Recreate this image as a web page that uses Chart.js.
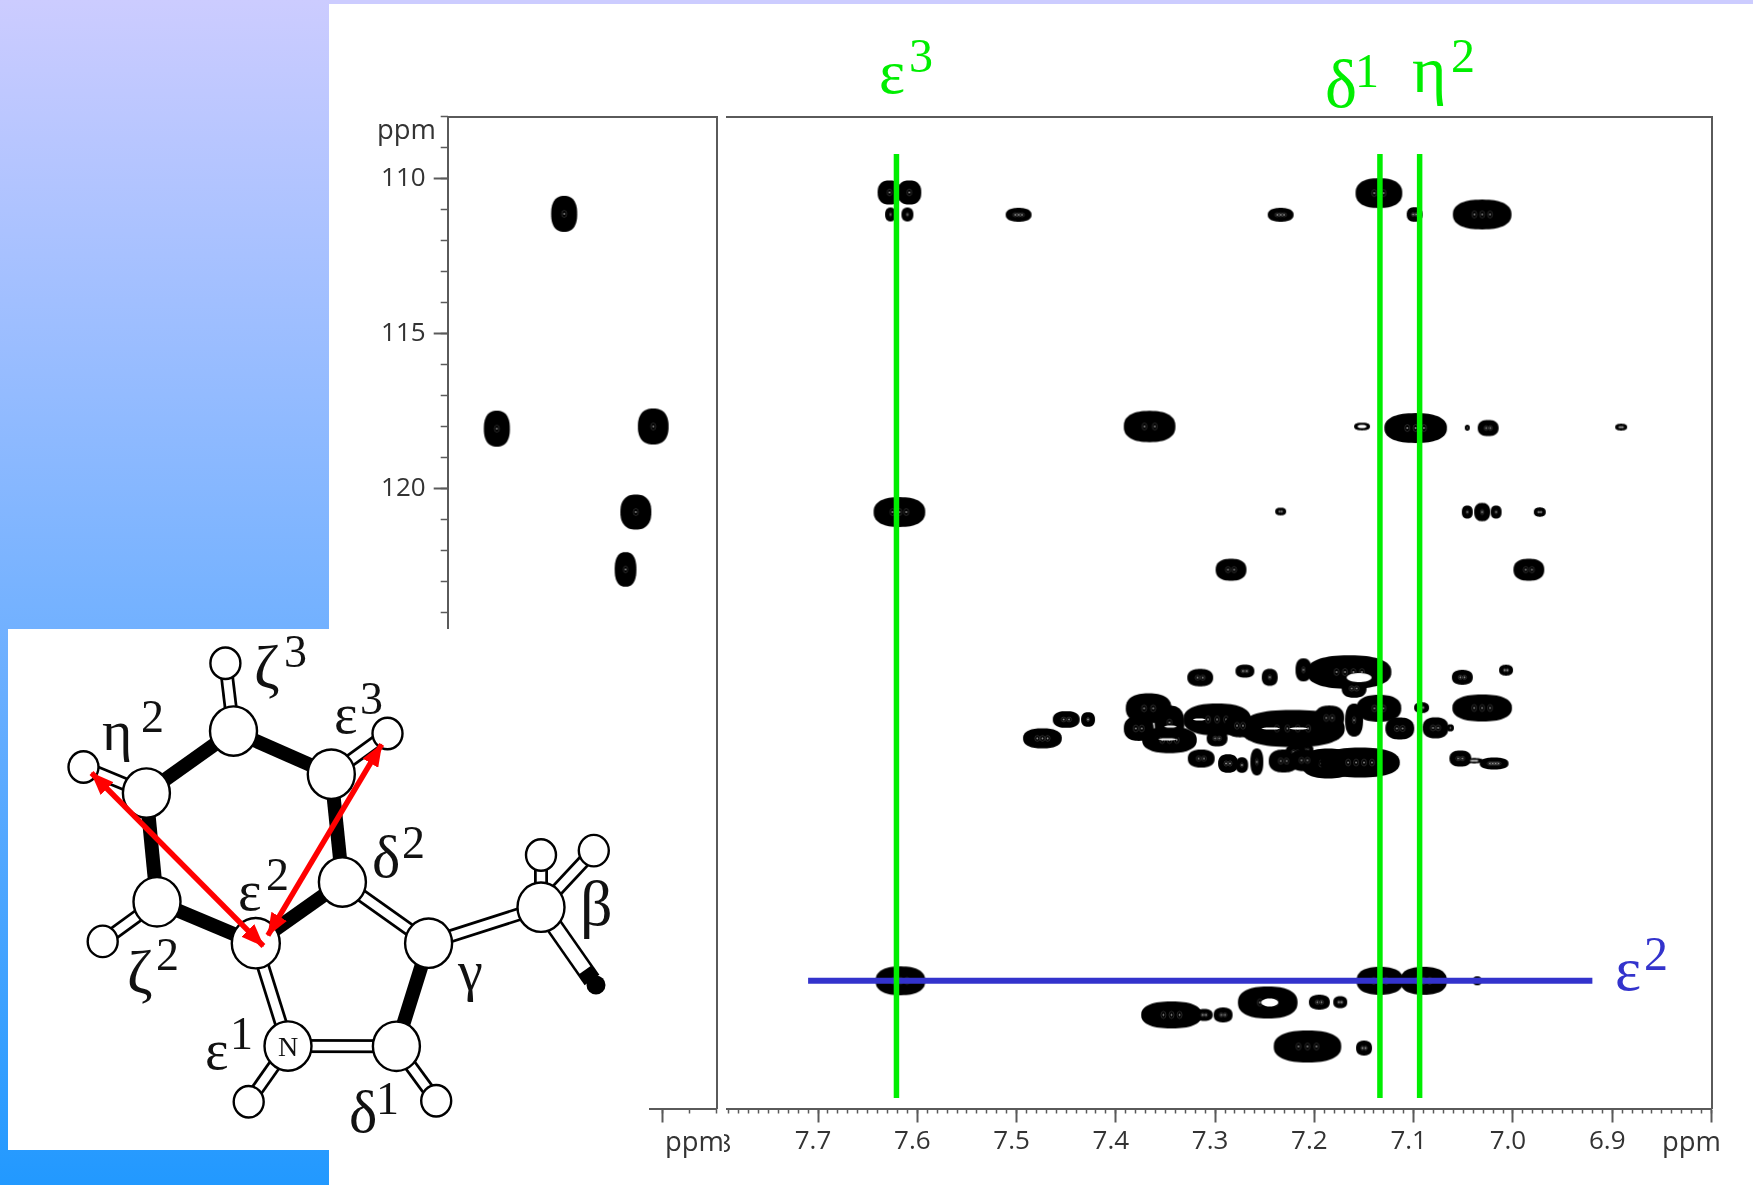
<!DOCTYPE html>
<html lang="en">
<head>
<meta charset="UTF-8">
<title>Trp ring 2D NMR</title>
<script src="https://cdn.jsdelivr.net/npm/chart.js"></script>
<style>
  html, body { margin: 0; padding: 0; }
  body { width: 1753px; height: 1185px; overflow: hidden; position: relative; background: #fff; }
  #side { position: absolute; left: 0; top: 0; width: 329px; height: 1185px; background: linear-gradient(#ccccff, #2299ff); }
  #strip { position: absolute; left: 329px; top: 0; right: 0; height: 4px; background: #ccccff; }
  canvas { position: absolute; top: 0; }
  #chartLeft { left: 329px; }
  #chartRight { left: 720px; }
  #overlay { position: absolute; left: 0; top: 0; }
</style>
</head>
<body>
<div id="side"></div>
<div id="strip"></div>
<canvas id="chartLeft" width="400" height="1185"></canvas>
<canvas id="chartRight" width="1033" height="1185"></canvas>
<svg id="overlay" width="1753" height="1185" xmlns="http://www.w3.org/2000/svg"></svg>
<script>
// axis ranges, ppm
const carbonRange = [108, 140];
const protonRangeRight = [6.8, 7.792];
const protonRangeLeft = [7.8, 8.79];
const leftXLabels = ['8.5'];

// left panel peaks
const leftShiftH = [8.361, 8.609, 8.033, 8.097, 8.135];
const leftShiftC = [111.14, 118.07, 118.0, 120.76, 122.61];
const leftWidthH = [0.096, 0.096, 0.113, 0.114, 0.08];
const leftWidthC = [1.16, 1.16, 1.16, 1.13, 1.12];

// right panel peaks, row by row
const shiftH = [
  7.628, 7.608, 7.627, 7.61, 7.498, 7.234, 7.135, 7.099, 7.031,
  7.366, 7.152, 7.098, 7.046, 7.025, 6.891,
  7.618, 7.234, 7.046, 7.031, 7.017, 6.973,
  7.284, 6.984,
  7.315, 7.27, 7.245, 7.211, 7.165, 7.16, 7.051, 7.007,
  7.031, 7.135, 7.092, 7.114, 7.078, 7.063, 7.16, 7.45, 7.428, 7.474,
  7.367, 7.377, 7.346, 7.298, 7.222, 7.298, 7.346, 7.275, 7.185,
  7.314, 7.287, 7.273, 7.258, 7.231, 7.186, 7.154, 7.208, 7.219, 7.21, 7.053, 7.039, 7.019,
  7.617, 7.134, 7.09, 7.036,
  7.247, 7.195, 7.174, 7.344, 7.311, 7.292, 7.207, 7.15
];
const shiftC = [
  110.45, 110.45, 111.16, 111.16, 111.17, 111.17, 110.47, 111.16, 111.16,
  118.0, 118.0, 118.05, 118.04, 118.05, 118.02,
  120.76, 120.74, 120.76, 120.76, 120.76, 120.76,
  122.62, 122.62,
  126.1, 125.89, 126.09, 125.85, 125.92, 126.45, 126.09, 125.86,
  127.08, 127.09, 127.07, 127.74, 127.72, 127.72, 127.47, 127.45, 127.45, 128.06,
  127.09, 127.74, 128.11, 127.45, 127.74, 128.06, 127.55, 127.65, 127.4,
  128.71, 128.87, 128.92, 128.82, 128.79, 128.87, 128.84, 128.44, 128.5, 128.77, 128.71, 128.78, 128.87,
  135.88, 135.88, 135.88, 135.88,
  136.58, 136.57, 136.57, 136.98, 136.98, 136.98, 138.0, 138.05
];
const widthH = [
  0.024, 0.024, 0.011, 0.012, 0.026, 0.026, 0.047, 0.016, 0.059,
  0.052, 0.016, 0.063, 0.005, 0.021, 0.012,
  0.052, 0.011, 0.011, 0.016, 0.011, 0.012,
  0.031, 0.031,
  0.026, 0.019, 0.016, 0.016, 0.085, 0.025, 0.021, 0.014,
  0.06, 0.045, 0.015, 0.029, 0.026, 0.007, 0.018, 0.027, 0.014, 0.039,
  0.046, 0.03, 0.055, 0.068, 0.105, 0.021, 0.03, 0.03, 0.03,
  0.027, 0.02, 0.0125, 0.013, 0.03, 0.054, 0.08, 0.014, 0.02, 0.03, 0.022, 0.018, 0.029,
  0.05, 0.047, 0.047, 0.009,
  0.06, 0.021, 0.014, 0.061, 0.017, 0.019, 0.068, 0.016
];
const widthC = [
  0.78, 0.78, 0.445, 0.445, 0.445, 0.445, 0.96, 0.47, 0.96,
  1.01, 0.25, 0.96, 0.19, 0.52, 0.22,
  0.96, 0.25, 0.42, 0.59, 0.42, 0.3,
  0.71, 0.71,
  0.56, 0.42, 0.55, 0.74, 1.08, 0.6, 0.48, 0.35,
  0.87, 0.87, 0.35, 0.71, 0.68, 0.23, 1.06, 0.54, 0.47, 0.65,
  0.97, 0.8, 0.85, 1.03, 1.2, 0.52, 1.1, 0.75, 0.8,
  0.58, 0.6, 0.5, 0.87, 0.74, 0.97, 0.97, 0.43, 0.5, 0.7, 0.52, 0.17, 0.39,
  0.93, 0.9, 0.9, 0.29,
  1.03, 0.48, 0.39, 0.87, 0.39, 0.48, 1.03, 0.48
];

// holes in the contours
const gapH = [7.155, 7.348, 7.345, 7.244, 7.216, 7.316, 7.245, 7.152];
const gapC = [126.1, 128.09, 127.68, 127.74, 127.74, 127.45, 136.58, 118.0];
const gapWidthH = [0.025, 0.018, 0.012, 0.018, 0.018, 0.012, 0.017, 0.009];
const gapWidthC = [0.29, 0.07, 0.07, 0.07, 0.07, 0.07, 0.26, 0.1];

// assignment lines
const assignShifts = [7.621, 7.134, 7.094];
const assignTop = 109.21;
const assignBottom = 139.66;
const epsilon2Shift = 135.88;
const epsilon2From = 7.71;
const epsilon2To = 6.92;

const axisColor = '#5a5a5a';
const textColor = '#333';
const sansFont = '"Open Sans", sans-serif';

function peakCanvas(w, h, hole) {
  const c = document.createElement('canvas');
  c.width = Math.ceil(w) + 6;
  c.height = Math.ceil(h) + 6;
  const g = c.getContext('2d');
  const cx = c.width / 2, cy = c.height / 2;
  g.filter = 'blur(0.7px)';
  g.fillStyle = hole ? '#fff' : '#000';
  g.beginPath();
  const p = hole ? 2 : 2.4; // slightly boxy contours
  for (let i = 0; i < 72; i++) {
    const a = i / 72 * Math.PI * 2;
    const cs = Math.cos(a), sn = Math.sin(a);
    const px = cx + w / 2 * Math.sign(cs) * Math.pow(Math.abs(cs), 2 / p);
    const py = cy + h / 2 * Math.sign(sn) * Math.pow(Math.abs(sn), 2 / p);
    if (i == 0) g.moveTo(px, py); else g.lineTo(px, py);
  }
  g.closePath();
  g.fill();
  if (hole) return c;
  // inner contour rings, faint
  g.filter = 'blur(0.4px)';
  const n = Math.max(1, Math.round(w / h * 1.5));
  const step = w * 0.4 / n;
  for (let i = 0; i < n; i++) {
    const sx = cx + (i - (n - 1) / 2) * step;
    g.strokeStyle = 'rgba(190,190,190,0.35)';
    g.lineWidth = 0.6;
    g.beginPath();
    g.ellipse(sx, cy, Math.min(2.5, w / 10), Math.min(3.5, h / 7), 0, 0, Math.PI * 2);
    g.stroke();
    g.fillStyle = 'rgba(255,255,255,0.6)';
    g.beginPath();
    g.arc(sx, cy, Math.min(0.9, w / 14), 0, Math.PI * 2);
    g.fill();
  }
  return c;
}

function peakStyle(widthsH, widthsC, hole) {
  return function (ctx) {
    const i = ctx.dataIndex;
    const d = ctx.dataset.data[i];
    if (!d) return 'circle';
    const sx = ctx.chart.scales.x, sy = ctx.chart.scales.y;
    const w = Math.abs(sx.getPixelForValue(d.x + widthsH[i] / 2) - sx.getPixelForValue(d.x - widthsH[i] / 2));
    const h = Math.abs(sy.getPixelForValue(d.y + widthsC[i] / 2) - sy.getPixelForValue(d.y - widthsC[i] / 2));
    return peakCanvas(w, h, hole);
  };
}

function toPoints(xs, ys) {
  return xs.map((x, i) => ({ x: x, y: ys[i] }));
}

function hiddenTicks() {
  return { display: false, autoSkip: false, includeBounds: false };
}

// overlaid zero-size axis, only for the short ticks
function minorAxis(pos, range, step, len, reverse) {
  const horizontal = pos == 'bottom';
  return {
    type: 'linear', position: pos, min: range[0], max: range[1], reverse: reverse, weight: 0,
    ticks: Object.assign(hiddenTicks(), { stepSize: step }),
    grid: { drawOnChartArea: false, drawTicks: true, tickLength: len, tickColor: axisColor, tickWidth: 1.5 },
    border: { display: false },
    afterFit: s => { if (horizontal) s.height = 0; else s.width = 0; }
  };
}

function borderAxis(pos, range, reverse) {
  const horizontal = pos == 'top';
  return {
    type: 'linear', position: pos, min: range[0], max: range[1], reverse: reverse,
    ticks: hiddenTicks(),
    grid: { drawOnChartArea: false, drawTicks: false },
    border: { display: true, color: axisColor, width: 2 },
    afterFit: s => { if (horizontal) s.height = 0; else s.width = 0; }
  };
}

function bottomAxis(range, step, labelFn) {
  return {
    type: 'linear', position: 'bottom', min: range[0], max: range[1], reverse: true, weight: 1,
    ticks: {
      stepSize: step, autoSkip: false, includeBounds: false, maxRotation: 0, padding: 3, labelOffset: -5,
      color: textColor, font: { family: sansFont, size: 26 }, callback: labelFn
    },
    grid: { drawOnChartArea: false, drawTicks: true, tickLength: 14, tickColor: axisColor, tickWidth: 2 },
    border: { display: true, color: axisColor, width: 2 },
    afterFit: s => { s.height = 76.5; }
  };
}

const baseOptions = {
  responsive: false,
  animation: false,
  events: [],
  plugins: { legend: { display: false }, tooltip: { enabled: false } }
};

new Chart(document.getElementById('chartLeft'), {
  type: 'scatter',
  data: {
    datasets: [{
      label: 'peaks',
      data: toPoints(leftShiftH, leftShiftC),
      pointStyle: peakStyle(leftWidthH, leftWidthC, false),
      pointRadius: 2
    }]
  },
  options: Object.assign({}, baseOptions, {
    layout: { padding: { top: 116.5, right: 12.5, left: 0, bottom: 0 } },
    scales: {
      x: bottomAxis(protonRangeLeft, 0.5, v => {
        const t = v.toFixed(1);
        return leftXLabels.includes(t) ? t : '';
      }),
      xMinor: minorAxis('bottom', protonRangeLeft, 0.1, 5, true),
      xTop: borderAxis('top', protonRangeLeft, true),
      y: {
        type: 'linear', position: 'left', min: carbonRange[0], max: carbonRange[1], reverse: true, weight: 1,
        ticks: {
          stepSize: 5, includeBounds: false, autoSkip: false, padding: 8,
          color: textColor, font: { family: sansFont, size: 26 }
        },
        grid: { drawOnChartArea: false, drawTicks: true, tickLength: 14, tickColor: axisColor, tickWidth: 2 },
        border: { display: true, color: axisColor, width: 2 },
        afterFit: s => { s.width = 118.7; }
      },
      yMinor: minorAxis('left', carbonRange, 1, 7, true),
      yRight: borderAxis('right', carbonRange, true)
    }
  })
});

new Chart(document.getElementById('chartRight'), {
  type: 'scatter',
  data: {
    datasets: [
      {
        label: 'peaks',
        data: toPoints(shiftH, shiftC),
        pointStyle: peakStyle(widthH, widthC, false),
        pointRadius: 2,
        order: 4
      },
      {
        label: 'contour gaps',
        data: toPoints(gapH, gapC),
        pointStyle: peakStyle(gapWidthH, gapWidthC, true),
        pointRadius: 2,
        order: 3
      },
      {
        label: 'epsilon2',
        data: [{ x: epsilon2From, y: epsilon2Shift }, { x: epsilon2To, y: epsilon2Shift }],
        showLine: true, borderColor: '#3333cc', borderWidth: 6, pointRadius: 0, order: 2
      }
    ].concat(assignShifts.map(s => ({
      label: 'assignment',
      data: [{ x: s, y: assignTop }, { x: s, y: assignBottom }],
      showLine: true, borderColor: '#00ee00', borderWidth: 5.5, pointRadius: 0, order: 1
    })))
  },
  options: Object.assign({}, baseOptions, {
    layout: { padding: { top: 116.5, right: 41.5, left: 6.7, bottom: 0 } },
    scales: {
      x: bottomAxis(protonRangeRight, 0.1, v => (v < 6.85 ? '' : v.toFixed(1))),
      xMinor: minorAxis('bottom', protonRangeRight, 0.01, 5, true),
      xTop: borderAxis('top', protonRangeRight, true),
      y: borderAxis('right', carbonRange, true)
    }
  })
});

// overlay: molecule inset and the hand written labels
const NS = 'http://www.w3.org/2000/svg';
const svg = document.getElementById('overlay');
function el(name, attrs, parent) {
  const e = document.createElementNS(NS, name);
  for (const k in attrs) e.setAttribute(k, attrs[k]);
  (parent || svg).appendChild(e);
  return e;
}

const defs = el('defs', {});
const clip = el('clipPath', { id: 'clip78' }, defs);
el('rect', { x: 724, y: 1120, width: 20, height: 50 }, clip);
const head = el('marker', { id: 'head', markerWidth: 24, markerHeight: 18, refX: 22, refY: 9, orient: 'auto-start-reverse', markerUnits: 'userSpaceOnUse' }, defs);
el('path', { d: 'M0,0 L23,9 L0,18 Z', fill: '#ff0000' }, head);

// inset covers the lower part of the left panel
el('rect', { x: 8, y: 629, width: 641, height: 521, fill: '#fff' });

const atoms = {
  z3h: [225.4, 663.2, 15], z3: [233.5, 731, 23.5],
  e3h: [387.5, 733.5, 15], e3: [331.3, 774.2, 23.5],
  n2h: [83.5, 767, 15], n2: [146.4, 793, 23.5],
  z2: [157, 901.8, 23.5], z2h: [102.7, 941.4, 15],
  e2: [255.8, 943.2, 24], d2: [342.4, 882, 23.5],
  g: [428.6, 943.2, 23.5], b: [541, 907.2, 23.5],
  bh1: [541, 855, 15], bh2: [593.8, 850.6, 15],
  n: [288, 1046, 23.5], d1: [396.4, 1046.3, 23.5],
  e1h: [248.7, 1101.8, 15], d1h: [436.2, 1100.7, 15]
};
const blackBonds = [['z3', 'e3'], ['z3', 'n2'], ['n2', 'z2'], ['z2', 'e2'], ['e2', 'd2'], ['d2', 'e3'], ['g', 'd1']];
const whiteBonds = [['z3h', 'z3'], ['e3h', 'e3'], ['n2h', 'n2'], ['z2h', 'z2'], ['e2', 'n'], ['d2', 'g'], ['g', 'b'],
  ['b', 'bh1'], ['b', 'bh2'], ['n', 'd1'], ['n', 'e1h'], ['d1', 'd1h']];

function bond(a, b, color, width) {
  el('line', { x1: atoms[a][0], y1: atoms[a][1], x2: atoms[b][0], y2: atoms[b][1], stroke: color, 'stroke-width': width });
}
blackBonds.forEach(b => bond(b[0], b[1], '#000', 14));
whiteBonds.forEach(b => { bond(b[0], b[1], '#000', 14); bond(b[0], b[1], '#fff', 8.5); });
// methylene stub with the black end
el('line', { x1: 541, y1: 907, x2: 592, y2: 980, stroke: '#000', 'stroke-width': 18 });
el('line', { x1: 541, y1: 907, x2: 585, y2: 970, stroke: '#fff', 'stroke-width': 13 });
el('circle', { cx: 596, cy: 985, r: 9.5, fill: '#000' });

for (const k in atoms) {
  const a = atoms[k];
  el('ellipse', { cx: a[0], cy: a[1], rx: a[2], ry: a[2] * 1.05, fill: '#fff', stroke: '#000', 'stroke-width': 2.4 });
}
const nText = el('text', { x: 288, y: 1056, 'text-anchor': 'middle', 'font-family': 'Liberation Serif', 'font-size': 28, fill: '#111' });
nText.textContent = 'N';

// NOE arrows
[[263.4, 946, 91.5, 773], [267.9, 935.3, 381.7, 744.3]].forEach(a => {
  el('line', { x1: a[0], y1: a[1], x2: a[2], y2: a[3], stroke: '#ff0000', 'stroke-width': 5.5, 'marker-start': 'url(#head)', 'marker-end': 'url(#head)' });
});

function label(x, y, greek, size, color, supX, supY, sup, supSize) {
  const t = el('text', { x: x, y: y, 'font-family': 'Liberation Serif', 'font-size': size, fill: color });
  t.textContent = greek;
  if (sup) {
    const s = el('text', { x: supX, y: supY, 'font-family': 'Liberation Serif', 'font-size': supSize, fill: color });
    s.textContent = sup;
  }
}

const mol = '#111';
label(102, 750, 'η', 58, mol, 141, 732, '2', 46);
label(254, 688, 'ζ', 62, mol, 284, 667, '3', 46);
label(334, 733, 'ε', 56, mol, 360, 714, '3', 46);
label(372, 877, 'δ', 60, mol, 402, 858, '2', 46);
label(238, 910, 'ε', 56, mol, 266, 890, '2', 46);
label(580, 925, 'β', 64, mol);
label(458, 990, 'γ', 56, mol);
label(127, 993, 'ζ', 62, mol, 156, 970, '2', 46);
label(205, 1069, 'ε', 56, mol, 230, 1049, '1', 46);
label(349, 1132, 'δ', 60, mol, 376, 1114, '1', 46);

const green = '#00ee00';
label(879, 93, 'ε', 62, green, 909, 72, '3', 48);
label(1325, 107, 'δ', 68, green, 1355, 87, '1', 48);
label(1412, 92, 'η', 66, green, 1451, 72, '2', 48);
label(1615, 990, 'ε', 62, '#3333cc', 1644, 970, '2', 48);

// axis unit labels
function ppm(x, y) {
  const t = el('text', { x: x, y: y, 'font-family': 'Open Sans', 'font-size': 28, fill: textColor, textLength: 59, lengthAdjust: 'spacingAndGlyphs' });
  t.textContent = 'ppm';
}
ppm(377, 139);
ppm(665, 1151);
ppm(1662, 1151);
const t78 = el('text', { x: 713, y: 1152, 'text-anchor': 'middle', 'font-family': 'Open Sans', 'font-size': 26, fill: textColor, 'clip-path': 'url(#clip78)' });
t78.textContent = '7.8';
</script>
</body>
</html>
